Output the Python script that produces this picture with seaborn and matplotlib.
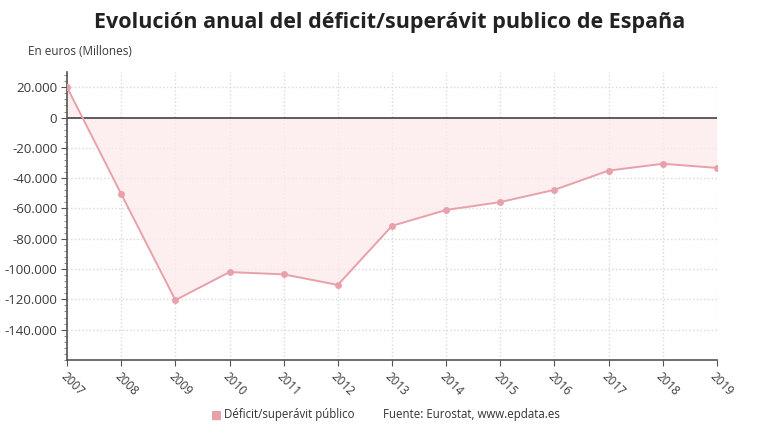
import numpy as np
import pandas as pd
import matplotlib
matplotlib.use('Agg')
import matplotlib.pyplot as plt
import matplotlib.ticker as mticker
import seaborn as sns

# Data (millions of euros)
years = [2007, 2008, 2009, 2010, 2011, 2012, 2013, 2014, 2015, 2016, 2017, 2018, 2019]
balance = [20000, -50500, -120500, -102000, -103500, -110500, -71500, -61000,
           -55800, -47700, -35000, -30500, -33200]
y_ticks = [20000, 0, -20000, -40000, -60000, -80000, -100000, -120000, -140000]

df = pd.DataFrame({'year': years, 'balance': balance})

sns.set_style('white')
plt.rcParams['font.family'] = ['Open Sans', 'DejaVu Sans']

line_color = '#e8a1aa'
fill_color = '#fdeaed'
text_color = '#3a3a3a'

fig = plt.figure(figsize=(7.8, 4.4), dpi=100)
ax = fig.add_axes([0.086, 0.182, 0.833, 0.654])

# shaded area between the series and zero
ax.fill_between(df['year'], df['balance'], 0, color=fill_color, alpha=0.8, linewidth=0, zorder=1)

sns.lineplot(data=df, x='year', y='balance', ax=ax, color=line_color, linewidth=1.4,
             marker='o', markersize=5, markeredgewidth=0, zorder=3)

ax.axhline(0, color='#333333', linewidth=1.1, zorder=2)

ax.set_xlim(2007, 2019)
ax.set_ylim(-160000, 30000)
ax.set_xticks(years)
ax.set_yticks(y_ticks)
ax.yaxis.set_minor_locator(mticker.MultipleLocator(4000))
ax.yaxis.set_major_formatter(mticker.FuncFormatter(lambda v, p: f'{int(v):,}'.replace(',', '.')))

ax.grid(True, which='major', color='#d9d9d9', linestyle=':', linewidth=1)
ax.set_axisbelow(True)

for s in ['top', 'right']:
    ax.spines[s].set_visible(False)
for s in ['left', 'bottom']:
    ax.spines[s].set_color('#555555')
    ax.spines[s].set_linewidth(1.2)

ax.tick_params(axis='y', which='major', length=4, color='#555555', labelsize=9.5,
               labelcolor=text_color, left=True, pad=3)
ax.tick_params(axis='y', which='minor', length=2, color='#777777', left=True)
ax.tick_params(axis='x', length=4, color='#555555', labelsize=8.5, labelcolor=text_color,
               bottom=True)
plt.setp(ax.get_xticklabels(), rotation=-45, ha='left', rotation_mode='anchor')

ax.set_xlabel('')
ax.set_ylabel('')

fig.text(0.5, 0.948, 'Evolución anual del déficit/superávit publico de España',
         ha='center', va='center', fontsize=15.5, fontweight='bold', color='#222222')
fig.text(0.036, 0.882, 'En euros (Millones)', ha='left', va='center', fontsize=8.5,
         color=text_color)

# legend-like footer
fig.text(0.277, 0.057, '■', ha='center', va='center', fontsize=8.5, color=line_color)
fig.text(0.287, 0.057, 'Déficit/superávit público', ha='left', va='center', fontsize=8.3,
         color='#333333')
fig.text(0.491, 0.057, 'Fuente: Eurostat, www.epdata.es', ha='left', va='center',
         fontsize=8.3, color='#333333')

fig.savefig('out.png', dpi=100)
